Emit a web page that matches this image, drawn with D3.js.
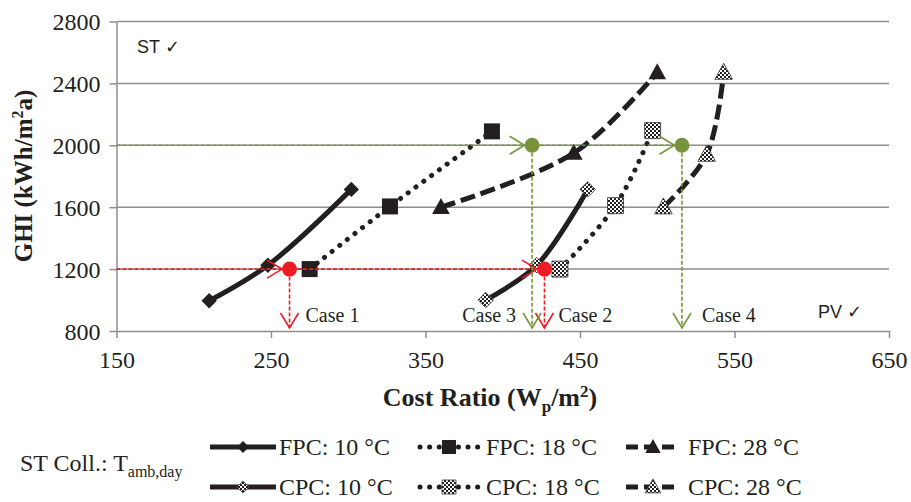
<!DOCTYPE html>
<html>
<head>
<meta charset="utf-8">
<script src="https://cdn.jsdelivr.net/npm/d3@7"></script>
<style>
  body { margin: 0; background: #fff; }
  svg { display: block; }
  .serif { font-family: "Liberation Serif", "Times New Roman", serif; fill: #231f20; }
  .sans { font-family: "Liberation Sans", Arial, sans-serif; fill: #231f20; }
</style>
</head>
<body>
<svg id="chart" width="911" height="502"></svg>
<script>
// ---------- data ----------
var xTicks = [150, 250, 350, 450, 550, 650];
var yTicks = [800, 1200, 1600, 2000, 2400, 2800];

var seriesNames = ["FPC: 10 °C", "FPC: 18 °C", "FPC: 28 °C", "CPC: 10 °C", "CPC: 18 °C", "CPC: 28 °C"];
var fpc10 = [[210, 995], [248, 1225], [302, 1715]];
var fpc18 = [[275, 1200], [327, 1605], [393, 2090]];
var fpc28 = [[360, 1600], [446, 1950], [500, 2470]];
var cpc10 = [[389, 1000], [422, 1225], [455, 1715]];
var cpc18 = [[437, 1200], [473, 1610], [497, 2095]];
var cpc28 = [[504, 1600], [532, 1940], [543, 2470]];

var caseNames = ["Case 1", "Case 2", "Case 3", "Case 4"];
var caseX = [262, 427, 419, 516];
var caseY = [1200, 1200, 2000, 2000];
var caseColor = ["red", "red", "green", "green"];

// ---------- setup ----------
var svg = d3.select("#chart");
var x = d3.scaleLinear().domain([150, 650]).range([116.5, 889]);
var y = d3.scaleLinear().domain([800, 2800]).range([331, 21.5]);
var grey = "#8e8e8e", black = "#231f20";
var colors = { red: "#ed1c24", green: "#77933c" };

var defs = svg.append("defs");
var pat = defs.append("pattern").attr("id", "checker")
    .attr("width", 4).attr("height", 4).attr("patternUnits", "userSpaceOnUse");
pat.append("rect").attr("width", 4).attr("height", 4).attr("fill", "#fff");
pat.append("rect").attr("width", 2).attr("height", 2).attr("fill", black);
pat.append("rect").attr("x", 2).attr("y", 2).attr("width", 2).attr("height", 2).attr("fill", black);

// gridlines
svg.append("g").selectAll("line").data(yTicks.slice(1)).enter().append("line")
    .attr("x1", x(150)).attr("x2", x(650))
    .attr("y1", function(d) { return y(d); }).attr("y2", function(d) { return y(d); })
    .attr("stroke", grey).attr("stroke-width", 1.5);

// axes
var yAxis = svg.append("g").attr("transform", "translate(" + x(150) + ",0)")
    .call(d3.axisLeft(y).tickValues(yTicks).tickFormat(d3.format("d")).tickSize(7).tickSizeOuter(0));
var xAxis = svg.append("g").attr("transform", "translate(0," + y(800) + ")")
    .call(d3.axisBottom(x).tickValues(xTicks).tickFormat(d3.format("d")).tickSize(7).tickSizeOuter(0));
[xAxis, yAxis].forEach(function(a) {
    a.select(".domain").attr("stroke", grey).attr("stroke-width", 1.5);
    a.selectAll(".tick line").attr("stroke", grey).attr("stroke-width", 1.5);
    a.selectAll("text").attr("class", "serif").attr("font-size", 24).attr("fill", black);
});
yAxis.selectAll("text").attr("x", -16).attr("dy", "0.34em");
xAxis.selectAll("text").attr("y", 20).attr("dy", "0.71em");

// axis titles
var yt = svg.append("text").attr("class", "serif").attr("font-size", 25).attr("font-weight", "bold")
    .attr("text-anchor", "middle").attr("transform", "translate(32,176) rotate(-90)");
yt.append("tspan").text("GHI (kWh/m");
yt.append("tspan").attr("font-size", 16).attr("dy", -9).text("2");
yt.append("tspan").attr("dy", 9).text("a)");

var xt = svg.append("text").attr("class", "serif").attr("font-size", 26).attr("font-weight", "bold")
    .attr("text-anchor", "middle").attr("x", 490).attr("y", 406);
xt.append("tspan").text("Cost Ratio (W");
xt.append("tspan").attr("font-size", 17).attr("dy", 6).text("p");
xt.append("tspan").attr("dy", -6).text("/m");
xt.append("tspan").attr("font-size", 17).attr("dy", -9).text("2");
xt.append("tspan").attr("dy", 9).text(")");

svg.append("text").attr("class", "sans").attr("font-size", 18).attr("x", 137).attr("y", 53).text("ST \u2713");
svg.append("text").attr("class", "sans").attr("font-size", 18).attr("x", 818).attr("y", 318).text("PV \u2713");

// ---------- case arrows ----------
function chevron(g, tx, ty, dir, col) {
    // dir: "right" or "down"; open V head with tip at (tx,ty)
    var p = dir === "right"
        ? [[tx - 15, ty - 9], [tx, ty], [tx - 15, ty + 9]]
        : [[tx - 9, ty - 15], [tx, ty], [tx + 9, ty - 15]];
    g.append("path").attr("d", d3.line()(p)).attr("fill", "none")
        .attr("stroke", col).attr("stroke-width", 1.6);
}
var caseG = svg.append("g");
var r = 7.5;
caseNames.forEach(function(name, i) {
    var col = colors[caseColor[i]];
    var cx = x(caseX[i]), cy = y(caseY[i]);
    // horizontal feed from previous circle of same colour (or from axis)
    var prev = -1;
    for (var j = 0; j < i; j++) if (caseColor[j] === caseColor[i] && caseY[j] === caseY[i]) prev = j;
    var x0 = prev < 0 ? x(150) : x(caseX[prev]) + r;
    caseG.append("line").attr("x1", x0).attr("x2", cx - r).attr("y1", cy).attr("y2", cy)
        .attr("stroke", col).attr("stroke-width", 1.6).attr("stroke-dasharray", "4,2");
    chevron(caseG, cx - r, cy, "right", col);
    caseG.append("line").attr("x1", cx).attr("x2", cx).attr("y1", cy + r).attr("y2", y(800) - 3)
        .attr("stroke", col).attr("stroke-width", 1.6).attr("stroke-dasharray", "4,2");
    chevron(caseG, cx, y(800) - 3, "down", col);
});

// ---------- series ----------
var all = [fpc10, fpc18, fpc28, cpc10, cpc18, cpc28];
var dashes = [null, "0.1,9.5", "15,6", null, "0.1,9.5", "15,6"];
var caps = ["butt", "round", "butt", "butt", "round", "butt"];
var shapes = ["diamond", "square", "triangle", "diamond", "square", "triangle"];
var fills = [black, black, black, "url(#checker)", "url(#checker)", "url(#checker)"];

var line = d3.line().x(function(d) { return x(d[0]); }).y(function(d) { return y(d[1]); })
    .curve(d3.curveCatmullRom.alpha(0.5));

function marker(g, shape, fill, cx, cy, s) {
    var p;
    if (shape === "diamond") p = [[cx, cy - s * 0.55], [cx + s * 0.55, cy], [cx, cy + s * 0.55], [cx - s * 0.55, cy]];
    else if (shape === "square") p = [[cx - s / 2, cy - s / 2], [cx + s / 2, cy - s / 2], [cx + s / 2, cy + s / 2], [cx - s / 2, cy + s / 2]];
    else p = [[cx, cy - s * 0.58], [cx + s * 0.55, cy + s * 0.42], [cx - s * 0.55, cy + s * 0.42]];
    g.append("path").attr("d", d3.line()(p) + "Z").attr("fill", fill)
        .attr("stroke", fill === black ? black : "#333").attr("stroke-width", fill === black ? 0 : 0.8);
}

var seriesG = svg.append("g");
all.forEach(function(pts, i) {
    seriesG.append("path").datum(pts).attr("d", line).attr("fill", "none")
        .attr("stroke", black).attr("stroke-width", 5)
        .attr("stroke-linecap", caps[i]).attr("stroke-dasharray", dashes[i]);
    var sz = shapes[i] === "diamond" ? 14 : 16;
    pts.forEach(function(d) { marker(seriesG, shapes[i], fills[i], x(d[0]), y(d[1]), sz); });
});

// circles on top
caseNames.forEach(function(name, i) {
    var col = colors[caseColor[i]];
    caseG.append("circle").attr("cx", x(caseX[i])).attr("cy", y(caseY[i])).attr("r", r).attr("fill", col);
});
svg.append("g").node().appendChild(caseG.node());

// case labels
var labelDx = [16, 14, -16, 20];
caseNames.forEach(function(name, i) {
    svg.append("text").attr("class", "serif").attr("font-size", 20)
        .attr("x", x(caseX[i]) + labelDx[i]).attr("y", 322)
        .attr("text-anchor", labelDx[i] < 0 ? "end" : "start").text(name);
});

// ---------- legend ----------
var lg = svg.append("g");
var st = lg.append("text").attr("class", "serif").attr("font-size", 24).attr("x", 20).attr("y", 471);
st.append("tspan").text("ST Coll.: T");
st.append("tspan").attr("font-size", 16).attr("dy", 6).text("amb,day");

var colX = [210, 420, 626];
var colW = [66, 58, 54];
var rowY = [447, 487];
seriesNames.forEach(function(name, i) {
    var c = i % 3, rr = Math.floor(i / 3);
    var x0 = colX[c], x1 = colX[c] + colW[c], yy = rowY[rr];
    lg.append("line").attr("x1", x0).attr("x2", x1).attr("y1", yy).attr("y2", yy)
        .attr("stroke", black).attr("stroke-width", 5)
        .attr("stroke-linecap", caps[i]).attr("stroke-dasharray", c === 2 ? "12,6" : dashes[i]);
    var sz = shapes[i] === "diamond" ? 11 : 14;
    marker(lg, shapes[i], fills[i], (x0 + x1) / 2, yy, sz);
    lg.append("text").attr("class", "serif").attr("font-size", 24)
        .attr("x", x1 + (c === 0 ? 3 : 8)).attr("y", yy).attr("dy", "0.33em").text(name);
});
</script>
</body>
</html>
